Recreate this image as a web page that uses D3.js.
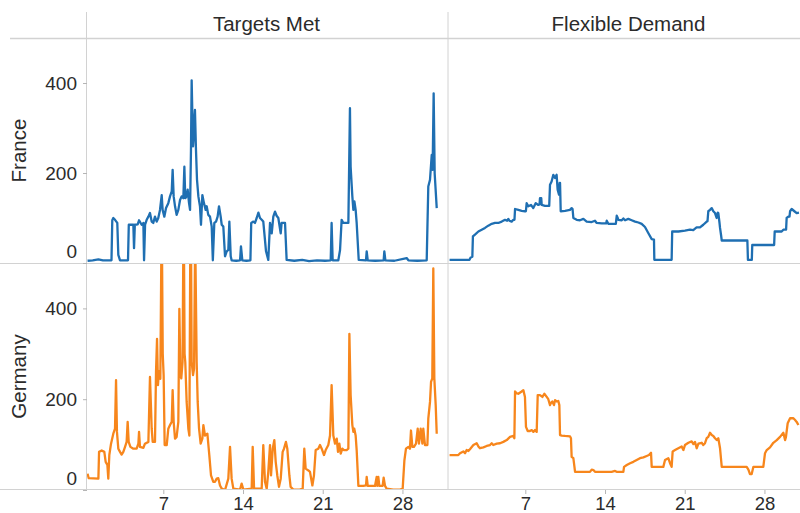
<!DOCTYPE html>
<html>
<head>
<meta charset="utf-8">
<script src="https://cdn.jsdelivr.net/npm/d3@7"></script>
<style>
  body { margin: 0; background: #fff; }
  text { font-family: "Liberation Sans", Arial, sans-serif; fill: #2b2b2b; }
</style>
</head>
<body>
<svg id="chart" width="800" height="513"></svg>
<script>
// Facet headers and tick values
const columns = ["Targets Met", "Flexible Demand"];
const rows = ["France", "Germany"];
const yTicks = [0, 200, 400];
const xTicks = [7, 14, 21, 28];

// [day of month, value]
const franceTargets = [
  [0.35,5],[0.8,6],[1.3,8],[1.7,6],[2.45,6],[2.52,95],[2.61,100],[2.76,96],[2.96,89],[3.05,18],[3.2,6],
  [3.9,6],[3.97,85],[4.37,85],[4.43,33],[4.5,85],[4.75,86],[4.87,95],[5.1,85],[5.25,89],[5.31,6],[5.4,85],
  [5.54,96],[5.69,103],[5.83,111],[5.98,92],[6.12,89],[6.27,103],[6.42,92],[6.56,100],[6.71,118],[6.86,151],
  [6.94,118],[7.09,103],[7.24,122],[7.44,133],[7.59,148],[7.74,159],[7.82,207],[7.91,148],[8.03,126],[8.17,107],
  [8.32,118],[8.47,140],[8.61,148],[8.76,144],[8.85,214],[8.93,144],[9.05,148],[9.14,163],[9.26,133],[9.35,118],
  [9.43,251],[9.49,406],[9.55,332],[9.61,259],[9.67,281],[9.73,318],[9.78,340],[9.87,251],[9.96,185],[10.08,148],
  [10.22,126],[10.31,85],[10.43,151],[10.57,133],[10.72,118],[10.81,126],[10.95,107],[11.1,103],[11.25,81],[11.35,6],
  [11.48,89],[11.63,92],[11.77,103],[11.89,126],[12.04,103],[12.13,85],[12.27,81],[12.42,15],[12.57,26],[12.71,29],
  [12.8,92],[12.92,15],[13.0,6],[13.4,5],[13.74,6],[13.82,37],[13.94,6],[14.3,5],[14.65,6],[14.72,89],[14.91,92],
  [15.05,89],[15.2,100],[15.35,112],[15.49,100],[15.64,96],[15.78,92],[16.02,26],[16.22,7],[16.37,89],[16.52,66],
  [16.66,103],[16.81,114],[16.95,105],[17.1,100],[17.31,66],[17.39,89],[17.69,89],[17.83,7],[18.5,5],[19.2,7],
  [19.8,4],[20.5,6],[21.2,5],[21.7,6],[21.78,89],[21.87,6],[22.37,6],[22.52,29],[22.66,96],[22.81,89],[23.25,89],
  [23.39,344],[23.45,214],[23.6,148],[23.69,118],[23.78,137],[23.89,118],[23.98,89],[24.16,7],[24.8,6],[24.86,26],
  [24.95,6],[25.6,5],[26.35,6],[26.41,26],[26.5,6],[27.3,5],[28.37,11],[28.52,6],[29.3,5],[30.13,6],[30.27,170],
  [30.42,185],[30.57,240],[30.65,207],[30.74,377],[30.83,199],[31.01,122]
];

const franceFlex = [
  [0.35,7],[2.1,7],[2.2,12],[2.35,14],[2.4,59],[2.58,63],[2.88,70],[3.17,74],[3.46,78],[3.75,83],[4.05,87],
  [4.34,89],[4.63,89],[4.93,92],[5.22,96],[5.4,94],[5.51,98],[5.6,94],[5.8,92],[5.95,96],[6.05,96],[6.1,120],
  [6.39,118],[6.68,116],[6.97,115],[7.05,115],[7.12,133],[7.26,126],[7.5,129],[7.7,122],[7.91,133],[8.14,129],
  [8.25,130],[8.29,144],[8.4,144],[8.44,129],[8.73,127],[9.02,127],[9.1,127],[9.17,174],[9.31,181],[9.46,196],
  [9.61,189],[9.75,196],[9.84,163],[9.96,152],[10.02,178],[10.05,178],[10.11,115],[10.49,116],[10.92,118],
  [11.07,122],[11.15,120],[11.22,100],[11.51,96],[11.8,95],[12.1,98],[12.39,92],[12.83,91],[13.12,94],[13.27,89],
  [13.71,88],[14.1,88],[14.15,94],[14.29,87],[14.88,87],[14.95,87],[15.03,105],[15.12,100],[15.17,96],[15.47,95],
  [15.61,99],[15.76,95],[16.05,98],[16.34,95],[16.64,92],[16.93,90],[17.22,87],[17.51,80],[17.81,66],[18.1,53],
  [18.3,52],[18.33,7],[19.85,7],[19.9,70],[20.44,70],[21.02,72],[21.46,74],[21.75,73],[22.04,79],[22.34,79],
  [22.63,85],[22.93,92],[23.0,93],[23.07,115],[23.22,118],[23.37,122],[23.51,115],[23.66,111],[23.8,100],
  [23.9,112],[23.95,111],[24.05,90],[24.1,78],[24.2,60],[24.25,50],[26.5,50],[26.55,7],[26.89,7],[26.93,40],
  [28.85,40],[28.9,70],[29.51,70],[29.66,74],[29.9,74],[29.95,100],[30.1,103],[30.2,103],[30.25,115],[30.39,120],
  [30.63,115],[30.83,111],[31.03,112]
];

const germanyTargets = [
  [0.35,36],[0.45,26],[1.3,25],[1.36,84],[1.59,87],[1.82,84],[1.94,62],[2.09,55],[2.17,25],[2.26,77],[2.41,102],
  [2.61,124],[2.76,135],[2.85,242],[2.93,128],[3.05,91],[3.2,84],[3.34,78],[3.49,84],[3.64,95],[3.78,106],
  [3.87,150],[3.96,106],[4.11,95],[4.37,91],[4.66,91],[4.81,102],[4.87,128],[4.95,95],[5.25,93],[5.39,102],
  [5.69,106],[5.83,249],[5.98,135],[6.07,106],[6.27,106],[6.36,260],[6.45,333],[6.53,231],[6.62,262],[6.74,245],
  [6.86,620],[6.95,300],[7.03,253],[7.12,99],[7.3,99],[7.44,135],[7.59,143],[7.74,150],[7.82,220],[7.91,150],
  [8.03,113],[8.17,117],[8.32,150],[8.41,399],[8.5,253],[8.58,246],[8.69,282],[8.79,640],[8.87,300],[8.93,282],
  [9.05,194],[9.2,135],[9.29,120],[9.4,700],[9.49,282],[9.61,253],[9.7,267],[9.8,560],[9.93,282],[10.02,194],
  [10.14,135],[10.28,102],[10.43,113],[10.52,143],[10.66,120],[10.87,124],[11.04,77],[11.19,32],[11.39,18],
  [11.54,18],[11.69,25],[11.83,26],[11.98,10],[12.13,3],[12.42,0],[12.71,25],[12.86,95],[13.0,25],[13.15,3],
  [13.74,1],[13.88,14],[14.03,1],[14.76,3],[14.85,95],[14.97,3],[15.64,3],[15.78,99],[15.93,18],[16.08,3],
  [16.22,40],[16.37,99],[16.46,32],[16.61,91],[16.75,110],[16.87,62],[17.01,32],[17.16,7],[17.31,25],[17.48,84],
  [17.6,91],[17.77,106],[17.89,91],[18.07,32],[18.18,7],[18.42,1],[18.98,1],[19.24,3],[19.38,91],[19.5,47],
  [19.74,43],[19.88,40],[20.09,10],[20.23,32],[20.38,88],[20.61,91],[20.76,99],[20.91,91],[21.11,77],[21.26,88],
  [21.49,99],[21.64,120],[21.78,231],[21.93,120],[22.08,102],[22.23,113],[22.34,84],[22.46,102],[22.58,80],
  [22.72,91],[22.87,88],[23.1,88],[23.25,91],[23.34,344],[23.45,209],[23.6,143],[23.69,128],[23.77,135],
  [23.89,120],[23.98,88],[24.13,9],[24.57,9],[24.8,10],[24.86,29],[24.95,9],[25.59,9],[25.74,29],[25.79,9],
  [25.88,29],[25.97,9],[26.26,9],[26.35,27],[26.47,9],[26.61,3],[27.2,1],[27.79,1],[28.02,3],[28.17,65],
  [28.31,91],[28.52,95],[28.66,91],[28.75,131],[28.87,95],[29.01,95],[29.19,102],[29.34,135],[29.45,102],
  [29.6,135],[29.75,102],[29.83,135],[29.98,99],[30.19,99],[30.27,157],[30.42,194],[30.51,238],[30.62,246],
  [30.71,488],[30.8,246],[30.92,187],[31.01,124]
];

const germanyFlex = [
  [0.35,77],[1.12,77],[1.27,81],[1.56,85],[1.71,81],[1.85,88],[2.0,86],[2.14,90],[2.44,99],[2.73,103],[2.88,96],
  [3.02,92],[3.32,94],[3.61,97],[3.9,99],[4.05,103],[4.19,99],[4.49,102],[4.78,103],[5.07,106],[5.37,110],
  [5.66,117],[5.95,119],[6.04,114],[6.1,217],[6.24,213],[6.39,212],[6.68,217],[6.83,220],[6.97,205],[7.06,139],
  [7.21,130],[7.41,130],[7.56,132],[7.71,128],[7.85,132],[8.0,128],[8.09,209],[8.29,209],[8.5,205],[8.67,212],
  [8.88,205],[9.02,200],[9.17,187],[9.26,192],[9.37,195],[9.52,187],[9.61,198],[9.76,195],[9.9,196],[9.99,187],
  [10.05,121],[10.2,120],[10.49,119],[10.93,118],[11.01,114],[11.07,73],[11.22,70],[11.37,40],[11.66,40],
  [12.24,40],[12.68,40],[12.83,45],[12.98,44],[13.12,40],[13.71,40],[14.58,40],[14.88,42],[15.02,40],[15.61,40],
  [15.67,51],[15.91,55],[16.2,59],[16.49,62],[16.78,66],[17.07,70],[17.37,72],[17.66,75],[17.86,77],[18.04,82],
  [18.1,51],[18.68,51],[19.12,51],[19.27,66],[19.56,70],[19.71,59],[19.85,51],[19.94,85],[20.15,88],[20.44,92],
  [20.73,96],[20.88,88],[21.02,99],[21.32,104],[21.61,107],[21.76,101],[21.9,106],[22.05,92],[22.2,102],
  [22.49,104],[22.63,99],[22.78,103],[22.93,114],[23.07,117],[23.22,126],[23.37,121],[23.51,119],[23.66,114],
  [23.81,110],[23.95,114],[24.1,92],[24.25,51],[26.44,51],[26.59,45],[26.73,35],[26.88,35],[27.03,51],[27.9,51],
  [28.05,81],[28.2,88],[28.49,94],[28.78,104],[29.08,110],[29.37,117],[29.66,126],[29.81,110],[29.89,117],
  [30.04,147],[30.25,158],[30.54,158],[30.69,154],[30.83,150],[30.98,143]
];

const seriesByCell = {
  "France":  { "Targets Met": franceTargets,  "Flexible Demand": franceFlex },
  "Germany": { "Targets Met": germanyTargets, "Flexible Demand": germanyFlex }
};
const rowColors = { "France": "#1f6fb2", "Germany": "#f7861c" };

// Layout of the 2x2 facet grid
const W = 800, H = 513;
const colLeft = [87, 449];
const panelW = 361;
const rowTop = [38, 263];
const rowBottom = [263, 490];
const gridColor = "#d2d2d2";

const svg = d3.select("#chart");
svg.append("rect").attr("width", W).attr("height", H).attr("fill", "#fff");

const xScales = colLeft.map(x0 => d3.scaleLinear().domain([0.3, 32]).range([x0, x0 + panelW]));
const yScales = rowTop.map((t, i) => d3.scaleLinear().domain([0, 500]).range([rowBottom[i], t]));

const defs = svg.append("defs");

// Data lines, each clipped to its own panel
rows.forEach((r, ri) => {
  columns.forEach((c, ci) => {
    const id = `clip-${ri}-${ci}`;
    defs.append("clipPath").attr("id", id)
      .append("rect")
      .attr("x", colLeft[ci]).attr("y", rowTop[ri])
      .attr("width", panelW).attr("height", rowBottom[ri] - rowTop[ri]);
    const x = xScales[ci], y = yScales[ri];
    const line = d3.line().x(d => x(d[0])).y(d => y(d[1]));
    svg.append("path")
      .datum(seriesByCell[r][c])
      .attr("clip-path", `url(#${id})`)
      .attr("fill", "none")
      .attr("stroke", rowColors[r])
      .attr("stroke-width", 2.3)
      .attr("stroke-linejoin", "round")
      .attr("d", line);
  });
});

// Grid frame
const frame = svg.append("g").attr("stroke", gridColor).attr("fill", "none");
frame.append("line").attr("x1", 10).attr("x2", W).attr("y1", 38.5).attr("y2", 38.5).attr("stroke-width", 1.5);
frame.append("line").attr("x1", 0).attr("x2", W).attr("y1", 263.5).attr("y2", 263.5);
frame.append("line").attr("x1", 0).attr("x2", W).attr("y1", 489.5).attr("y2", 489.5);
frame.append("line").attr("x1", 86.5).attr("x2", 86.5).attr("y1", 12).attr("y2", 490);
frame.append("line").attr("x1", 448).attr("x2", 448).attr("y1", 12).attr("y2", 490);

// Column headers
columns.forEach((c, ci) => {
  svg.append("text")
    .attr("x", colLeft[ci] + panelW / 2 - 1)
    .attr("y", 31)
    .attr("text-anchor", "middle")
    .style("font-size", "20.5px")
    .text(c);
});

// Row headers
rows.forEach((r, ri) => {
  const cy = (rowTop[ri] + rowBottom[ri]) / 2;
  svg.append("text")
    .attr("transform", `translate(18.5,${cy}) rotate(-90)`)
    .attr("text-anchor", "middle")
    .attr("dy", "0.35em")
    .style("font-size", "20.5px")
    .text(r);
});

// Y axes
rows.forEach((r, ri) => {
  const g = svg.append("g")
    .attr("transform", `translate(${colLeft[0]},0)`)
    .call(d3.axisLeft(yScales[ri]).tickValues(yTicks).tickSize(4).tickPadding(6).tickFormat(d3.format("d")));
  g.select(".domain").remove();
  g.selectAll(".tick line").attr("stroke", "#b5b5b5");
  g.selectAll(".tick text")
    .style("font-size", "19px")
    .style("font-family", "'Liberation Sans', Arial, sans-serif")
    .attr("fill", "#2b2b2b")
    .attr("y", d => d === 0 ? -12 : 0);
});

// X axes
columns.forEach((c, ci) => {
  const g = svg.append("g")
    .attr("transform", `translate(0,${rowBottom[1]})`)
    .call(d3.axisBottom(xScales[ci]).tickValues(xTicks).tickSize(4).tickPadding(3));
  g.select(".domain").remove();
  g.selectAll(".tick line").attr("stroke", "#b5b5b5");
  g.selectAll(".tick text")
    .style("font-size", "18.5px")
    .style("font-family", "'Liberation Sans', Arial, sans-serif")
    .attr("fill", "#2b2b2b");
});
</script>
</body>
</html>
